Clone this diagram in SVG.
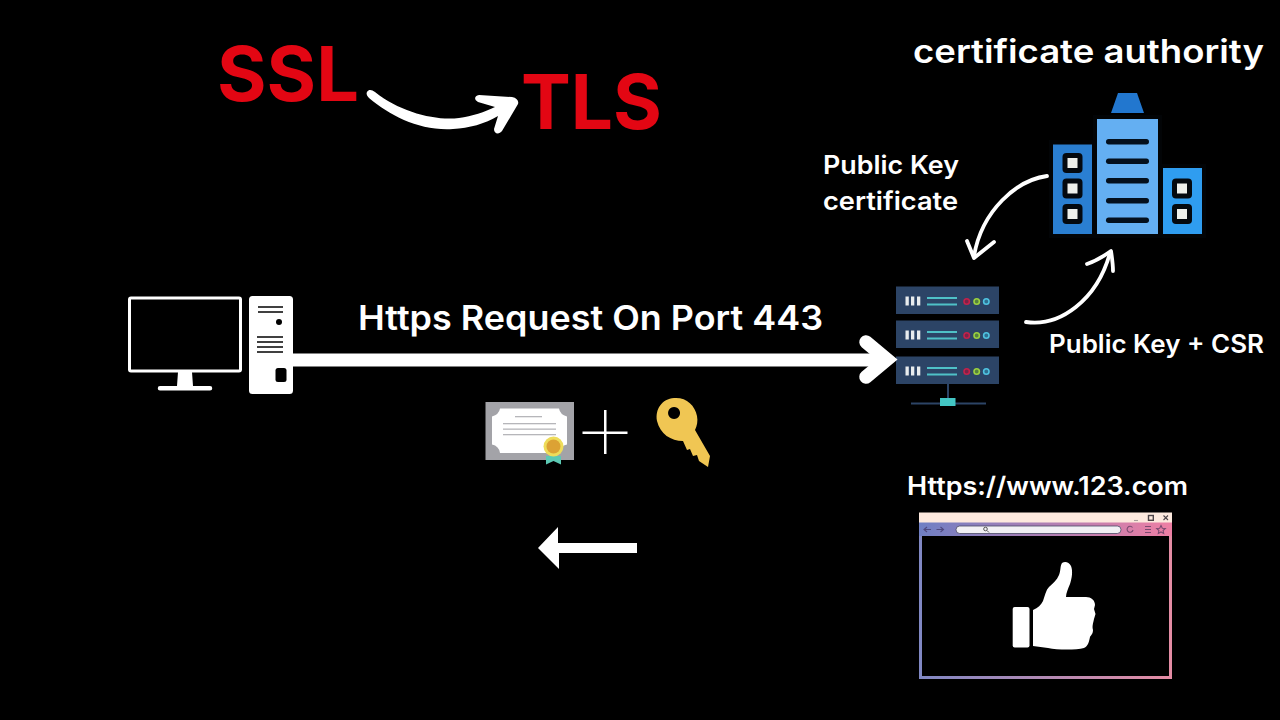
<svg xmlns="http://www.w3.org/2000/svg" width="1280" height="720" viewBox="0 0 1280 720">
<style>
text{font-family:Inter,"Noto Sans",sans-serif;font-weight:600;fill:#fff}
text.red{font-family:Inter,"Noto Sans",sans-serif;font-weight:700;fill:#e30613}
.w{fill:#fff}
.curve{fill:none;stroke:#fff;stroke-linecap:round;stroke-linejoin:round;stroke-width:3.800}
.srv{fill:#2c4466}.bar{fill:#e8ecee}.ln{fill:#4fc1c7}
.halo{fill:#020406;stroke:#020406;stroke-width:8}
</style>
<defs>
<linearGradient id="bg" x1="0" x2="1" y1="0" y2="0"><stop offset="0" stop-color="#6f7fc4"/><stop offset="1" stop-color="#ee7fa4"/></linearGradient>
<linearGradient id="bd" gradientUnits="userSpaceOnUse" x1="919" x2="1172" y1="0" y2="0"><stop offset="0" stop-color="#8088c4"/><stop offset="1" stop-color="#e58ca4"/></linearGradient>
<g id="rack">
<rect class="srv" x="0" y="0" width="103" height="27.500"/>
<rect class="bar" x="9.500" y="10" width="3.300" height="9"/><rect class="bar" x="15" y="10" width="3.300" height="9"/><rect class="bar" x="21" y="10" width="3.300" height="9"/>
<rect class="ln" x="31" y="10.500" width="30" height="2"/><rect class="ln" x="31" y="17" width="30" height="2"/>
<circle cx="70.700" cy="15" r="2.700" fill="#7a2348" stroke="#c2214b" stroke-width="1.600"/><circle cx="80.700" cy="15" r="2.700" fill="#55803f" stroke="#9ad13f" stroke-width="1.600"/><circle cx="90.300" cy="15" r="2.700" fill="#2f6f90" stroke="#4fc3e0" stroke-width="1.600"/>
</g>
<g id="win"><rect x="-10" y="-10" width="20" height="20" rx="4" fill="#04090f"/><rect x="-5" y="-5" width="10" height="10" fill="#eef0ec"/></g>
</defs>
<rect width="1280" height="720" fill="#000"/>
<g id="ssl"><text class="red" x="217" y="101" font-size="76" textLength="142" lengthAdjust="spacingAndGlyphs">SSL</text></g>
<g id="tls"><text class="red" x="521" y="129" font-size="76" textLength="141" lengthAdjust="spacingAndGlyphs">TLS</text></g>
<g id="ca-label"><text x="913" y="63" font-size="32" textLength="351" lengthAdjust="spacingAndGlyphs">certificate authority</text></g>
<g id="pkc-label"><text x="823" y="174" font-size="25.500" textLength="136" lengthAdjust="spacingAndGlyphs">Public Key</text><text x="823" y="210" font-size="25.500" textLength="135" lengthAdjust="spacingAndGlyphs">certificate</text></g>
<g id="csr-label"><text x="1049" y="353" font-size="25" textLength="215" lengthAdjust="spacingAndGlyphs">Public Key + CSR</text></g>
<g id="req-label"><text x="358" y="330" font-size="33.500" textLength="465" lengthAdjust="spacingAndGlyphs">Https Request On Port 443</text></g>
<g id="url-label"><text x="907" y="495" font-size="25.500" textLength="281" lengthAdjust="spacingAndGlyphs">Https://www.123.com</text></g>
<g id="computer">
<rect x="129.500" y="298" width="111" height="73" rx="1.500" fill="none" stroke="#fff" stroke-width="3"/>
<path class="w" d="M178 372h14l1 14h17a2.200 2.200 0 0 1 0 4.500h-50a2.200 2.200 0 0 1 0-4.500h17z"/>
<path class="w" fill-rule="evenodd" d="M252.500 296h37a3.500 3.500 0 0 1 3.500 3.500v91a3.500 3.500 0 0 1-3.500 3.500h-37a3.500 3.500 0 0 1-3.500-3.500v-91a3.500 3.500 0 0 1 3.500-3.500zM258 306.300v1.500h25v-1.500zM258 311.300v1.500h25v-1.500zM257 336.300v1.500h26v-1.500zM257 341.300v1.500h26v-1.500zM257 346.300v1.500h26v-1.500zM257 351.300v1.500h26v-1.500z"/>
<circle cx="279" cy="322" r="3" fill="#000"/>
<rect x="275.500" y="368" width="11" height="14" rx="2.500" fill="#000"/>
</g>
<g id="server">
<use href="#rack" x="896" y="286.500"/><use href="#rack" x="896" y="320.500"/><use href="#rack" x="896" y="356.500"/>
<rect x="947" y="384" width="2" height="16" fill="#2c4466"/>
<rect x="911" y="402.500" width="75" height="2" fill="#2c4466"/>
<rect x="940" y="398" width="15.500" height="8" fill="#43c6c4"/>
</g>
<g id="authority">
<path class="halo" d="M1097 119h61v115h-61zM1053 144h39v90h-39zM1163 168h39v66h-39z"/>
<path d="M1118 93h19l7 20h-33z" fill="#2277cf"/>
<rect x="1097" y="119" width="61" height="115" fill="#64aff2"/>
<rect x="1053" y="144.500" width="39" height="89.500" fill="#2a7fd2"/>
<rect x="1163" y="168" width="39" height="66" fill="#2f9df0"/>
<g fill="#04101d"><rect x="1106" y="139" width="43" height="5.500" rx="2.700"/><rect x="1106" y="158.500" width="43" height="5.500" rx="2.700"/><rect x="1106" y="178" width="43" height="5.500" rx="2.700"/><rect x="1106" y="198" width="43" height="5.500" rx="2.700"/><rect x="1106" y="217.500" width="43" height="5.500" rx="2.700"/></g>
<use href="#win" x="1072.500" y="163"/><use href="#win" x="1072.500" y="188.500"/><use href="#win" x="1072.500" y="214"/>
<use href="#win" x="1182" y="188.500"/><use href="#win" x="1182" y="214"/>
</g>
<g id="certificate">
<rect x="485.500" y="402" width="88.500" height="58" fill="#a3a3a8"/>
<path class="w" d="M500 408.500h59q1 6 8 8v28q-7 1-8 8.500h-59q-1-7-8-8.500v-28q7-2 8-8z"/>
<g fill="#b6b6ba"><rect x="515" y="416" width="27" height="1.300"/><rect x="503" y="423" width="53" height="1.300"/><rect x="503" y="428.500" width="53" height="1.300"/><rect x="503" y="434" width="53" height="1.300"/></g>
<path d="M546 456h15v8.500l-7.500-3.500-7.500 3.500z" fill="#5cc9b4"/>
<circle cx="553.500" cy="446.500" r="10" fill="#eedc5a"/><circle cx="553.500" cy="446.500" r="7" fill="#dca234"/>
</g>
<g id="plus"><rect x="582.500" y="431.500" width="45" height="2.500" class="w"/><rect x="604" y="410" width="2.500" height="44" class="w"/></g>
<g id="key">
<path fill="#f0c653" fill-rule="evenodd" d="M674 398C686 397 695 405 697 416C698 421 697 426 695 430L710 456L708 467L699 461L697 455L693 456L690 449L687 450L683 441C671 441 660 434 657 421C655 409 662 399 674 398ZM674 407a6 6 0 1 0 .1 0z"/>
</g>
<g id="browser">
<rect x="920.500" y="515" width="250" height="162.500" fill="none" stroke="url(#bd)" stroke-width="3"/>
<rect x="919" y="512.500" width="253" height="10.500" fill="#fde9de"/>
<rect x="919" y="522.500" width="253" height="13.500" fill="url(#bg)"/>
<rect x="956" y="526" width="165" height="7.500" rx="3.700" fill="#f2f1f5" stroke="#4a4a66" stroke-width="0.800"/>
<circle cx="985.500" cy="529" r="1.800" fill="none" stroke="#555" stroke-width="1"/><path d="M987 530.500l2 2" stroke="#555"/>
<g fill="none" stroke="#4f4a80" stroke-width="1.100"><path d="M924 529.500h7M927 527l-3 2.500 3 2.500M936.500 529.500h7M940.500 527l3 2.500-3 2.500"/></g>
<g fill="none" stroke="#7a4a70" stroke-width="1.100"><path d="M1132.500 527.500a3 3 0 1 0 .5 2.500"/><path d="M1145 526.500h6M1145 529.500h6M1145 532.500h6"/><path d="M1161 525.500l1.300 2.700 3 .3-2.200 2 .6 3-2.700-1.500-2.700 1.500.6-3-2.200-2 3-.3z"/></g>
<g fill="none" stroke="#4c4448" stroke-width="1.100"><path d="M1134 520.500h4" stroke="#a8a09c"/><rect x="1148.500" y="515.500" width="4.800" height="4.800" stroke-width="1.400"/><path d="M1163.500 515.500l4.500 4.500M1168 515.500l-4.500 4.500"/></g>
<g id="thumb" class="w"><rect x="1012.700" y="607" width="16.800" height="40.500" rx="2"/>
<path d="M1033 610C1038 608 1041 605 1043 601C1045 595 1046 590 1049 587C1053 583 1057 580 1059 575C1061 570 1060 566 1062 563C1065 561 1069 562 1071 566C1073 571 1072 578 1070 584C1068 589 1066 593 1066 597H1086C1091 597 1095 600 1095 605L1094 609L1095.500 614L1094 619C1093 624 1092 626 1093 630C1093 634 1091 635 1090 637C1089 642 1088 646 1084 648C1076 650 1058 650 1048 648L1033 646Z"/></g>
</g>
<g id="connectors">
<path fill="none" stroke="#fff" stroke-width="13" d="M293 360H884"/>
<path fill="none" stroke="#fff" stroke-width="13.500" stroke-linecap="round" stroke-miterlimit="6" d="M866 342L887 359.500L866 377"/>
<path class="w" d="M637 543v10h-78v16l-21-21 20-21v16z"/>
<path class="w" d="M367 92c2-3 5-2 8 0 25 20 60 29 84 26 13-2 26-6 36-11l-17-5c-4-2-4-6 1-7l33 2c5 1 7 4 6 7l-16 27c-3 4-8 3-8-2l4-13c-13 8-29 12-45 13-34 2-62-13-84-31-2-2-3-4-2-6z"/>
<path class="curve" d="M1047 176C1017 180 982 210 974 256"/>
<path class="curve" d="M967 241L974 258L994 242"/>
<path class="curve" d="M1026 322C1060 327 1097 300 1110 253"/>
<path class="curve" d="M1087 264C1096 261 1104 256 1111 251C1112 258 1113 264 1113 271"/>
</g>
</svg>
